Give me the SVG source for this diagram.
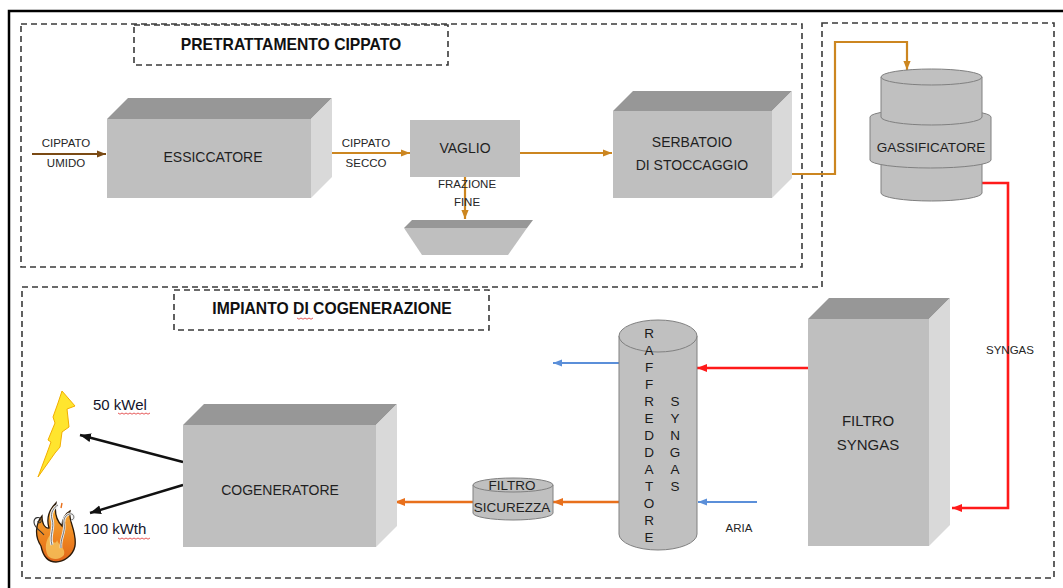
<svg xmlns="http://www.w3.org/2000/svg" width="1063" height="588" viewBox="0 0 1063 588">
  <style>
    .frame { fill: none; stroke: #3a3a3a; stroke-width: 1.6; stroke-dasharray: 6 4; }
    .title { font-family: "Liberation Sans", Arial, sans-serif; font-size: 15.7px; font-weight: bold; fill: #111; text-anchor: middle; }
    .lbl { font-family: "Liberation Sans", Arial, sans-serif; font-size: 14px; fill: #1f1f1f; text-anchor: middle; }
    .small { font-family: "Liberation Sans", Arial, sans-serif; font-size: 11.5px; fill: #262626; text-anchor: middle; }
    .vert { font-family: "Liberation Sans", Arial, sans-serif; font-size: 13.5px; fill: #1a1a1a; text-anchor: middle; }
    .power { font-family: "Liberation Sans", Arial, sans-serif; font-size: 15px; fill: #14142a; }
    .front { fill: #bfbfbf; }
    .top { fill: #979797; }
    .side { fill: #d9d9d9; }
    .cyl { fill: #c0c0c0; stroke: #808080; stroke-width: 1; }
    .squig { fill: none; stroke: #e03030; stroke-width: 0.8; }
    .ln { fill: none; }
  </style>
  <defs>
    <marker id="ah-brown" viewBox="0 0 10 10" refX="10" refY="5" markerWidth="9" markerHeight="9" markerUnits="userSpaceOnUse" orient="auto"><path d="M0,1 L10,5 L0,9 z" fill="#7a4a14"/></marker>
    <marker id="ah-gold" viewBox="0 0 10 10" refX="10" refY="5" markerWidth="9" markerHeight="9" markerUnits="userSpaceOnUse" orient="auto"><path d="M0,1 L10,5 L0,9 z" fill="#cc8620"/></marker>
    <marker id="ah-orange" viewBox="0 0 10 10" refX="10" refY="5" markerWidth="10" markerHeight="10" markerUnits="userSpaceOnUse" orient="auto"><path d="M0,1 L10,5 L0,9 z" fill="#e8701c"/></marker>
    <marker id="ah-red" viewBox="0 0 10 10" refX="10" refY="5" markerWidth="10" markerHeight="10" markerUnits="userSpaceOnUse" orient="auto"><path d="M0,1 L10,5 L0,9 z" fill="#ff1a1a"/></marker>
    <marker id="ah-blue" viewBox="0 0 10 10" refX="10" refY="5" markerWidth="9" markerHeight="9" markerUnits="userSpaceOnUse" orient="auto"><path d="M0,1 L10,5 L0,9 z" fill="#5b8fd9"/></marker>
    <marker id="ah-black" viewBox="0 0 10 10" refX="10" refY="5" markerWidth="11" markerHeight="11" markerUnits="userSpaceOnUse" orient="auto"><path d="M0,1 L10,5 L0,9 z" fill="#111"/></marker>
    <linearGradient id="flameGrad" x1="0" y1="0" x2="0" y2="1">
      <stop offset="0" stop-color="#f7b23a"/>
      <stop offset="0.6" stop-color="#ee8420"/>
      <stop offset="1" stop-color="#e0661a"/>
    </linearGradient>
  </defs>

  <!-- page edge -->
  <path d="M9,588 L9,11 L1063,11" fill="none" stroke="#000" stroke-width="2.5"/>

  <!-- section frames -->
  <g id="frames">
    <rect class="frame" x="21" y="24" width="781" height="243"/>
    <path class="frame" d="M822,23 L1054,23 L1054,578 L22,578 L22,287 L822,287 Z"/>
    <rect class="frame" x="134" y="25" width="314" height="40"/>
    <rect class="frame" x="174" y="290" width="315" height="40"/>
  </g>

  <!-- section titles -->
  <g id="title-pretrattamento">
    <text class="title" x="291" y="50">PRETRATTAMENTO CIPPATO</text>
  </g>
  <g id="title-cogenerazione">
    <text class="title" x="332" y="314">IMPIANTO DI COGENERAZIONE</text>
    <path class="squig" d="M297,318 l2,1.2 l2,-1.2 l2,1.2 l2,-1.2 l2,1.2 l2,-1.2 l2,1.2 l2,-1.2"/>
  </g>

  <!-- connectors -->
  <g id="connectors" stroke-width="2.2">
    <line x1="32" y1="154" x2="106" y2="154" stroke="#7a4a14" marker-end="url(#ah-brown)"/>
    <line x1="332" y1="153" x2="410" y2="153" stroke="#cc8620" marker-end="url(#ah-gold)"/>
    <line x1="520" y1="153" x2="612" y2="153" stroke="#cc8620" marker-end="url(#ah-gold)"/>
    <line x1="465" y1="177" x2="465" y2="219" stroke="#cc8620" marker-end="url(#ah-gold)"/>
    <path class="ln" d="M780,174 L835,174 L835,42 L907,42 L907,70" stroke="#cc8620" marker-end="url(#ah-gold)"/>
    <path class="ln" d="M982,183 L1008,183 L1008,508 L952,508" stroke="#ff1a1a" stroke-width="2.6" marker-end="url(#ah-red)"/>
    <line x1="808" y1="368" x2="697" y2="368" stroke="#ff1a1a" stroke-width="2.6" marker-end="url(#ah-red)"/>
    <line x1="619" y1="363" x2="553" y2="363" stroke="#5b8fd9" marker-end="url(#ah-blue)"/>
    <line x1="757" y1="502" x2="698" y2="502" stroke="#5b8fd9" marker-end="url(#ah-blue)"/>
    <line x1="619" y1="502" x2="553" y2="502" stroke="#e8701c" stroke-width="2.4" marker-end="url(#ah-orange)"/>
    <line x1="473" y1="502" x2="395" y2="502" stroke="#e8701c" stroke-width="2.4" marker-end="url(#ah-orange)"/>
    <line x1="183" y1="462" x2="80" y2="435" stroke="#111" stroke-width="2.4" marker-end="url(#ah-black)"/>
    <line x1="183" y1="485" x2="90" y2="513" stroke="#111" stroke-width="2.4" marker-end="url(#ah-black)"/>
  </g>

  <!-- stream labels -->
  <g id="stream-labels">
    <text class="small" x="66" y="147">CIPPATO</text>
    <text class="small" x="66" y="167">UMIDO</text>
    <text class="small" x="366" y="147">CIPPATO</text>
    <text class="small" x="366" y="167">SECCO</text>
    <text class="small" x="467" y="188">FRAZIONE</text>
    <text class="small" x="467" y="206">FINE</text>
    <text class="small" x="1010" y="354">SYNGAS</text>
    <text class="small" x="739" y="532">ARIA</text>
  </g>

  <!-- dryer -->
  <g id="essiccatore">
    <rect class="front" x="107" y="119" width="204" height="79"/>
    <polygon class="top" points="107,119 128,98 332,98 311,119"/>
    <polygon class="side" points="311,119 332,98 332,177 311,198"/>
    <text class="lbl" x="213" y="162">ESSICCATORE</text>
  </g>

  <!-- screen -->
  <g id="vaglio">
    <rect class="front" x="410" y="120" width="110" height="57"/>
    <text class="lbl" x="465" y="153">VAGLIO</text>
  </g>

  <!-- fines hopper -->
  <g id="contenitore-fine">
    <polygon class="top" points="412,220 533,220 527,228 404,228"/>
    <polygon class="front" points="404,228 527,228 508,255 422,255"/>
  </g>

  <!-- storage silo -->
  <g id="serbatoio">
    <rect class="front" x="613" y="111" width="159" height="87"/>
    <polygon class="top" points="613,111 633,91 792,91 772,111"/>
    <polygon class="side" points="772,111 792,91 792,178 772,198"/>
    <text class="lbl" x="692" y="147">SERBATOIO</text>
    <text class="lbl" x="692" y="170">DI STOCCAGGIO</text>
  </g>

  <!-- gasifier -->
  <g id="gassificatore">
    <path class="cyl" d="M881,150 L881,193 A50.5,8 0 0 0 982,193 L982,150 Z"/>
    <path class="cyl" d="M870,117 L870,160 A60.5,8 0 0 0 991,160 L991,117 A60.5,8 0 0 0 870,117 Z"/>
    <path class="cyl" d="M881,77 L881,117 A50.5,8 0 0 0 982,117 L982,77 Z"/>
    <ellipse class="cyl" cx="931.5" cy="77" rx="50.5" ry="8"/>
    <text class="lbl" x="931" y="152" style="font-size:13.5px">GASSIFICATORE</text>
  </g>

  <!-- syngas filter -->
  <g id="filtro-syngas">
    <rect class="front" x="808" y="319" width="121" height="227"/>
    <polygon class="top" points="808,319 829,298 950,298 929,319"/>
    <polygon class="side" points="929,319 950,298 950,525 929,546"/>
    <text class="lbl" x="868" y="426" style="font-size:15px">FILTRO</text>
    <text class="lbl" x="868" y="450" style="font-size:15px">SYNGAS</text>
  </g>

  <!-- syngas cooler -->
  <g id="raffreddatore">
    <path class="cyl" d="M619,336 L619,534 A39,16 0 0 0 697,534 L697,336 Z"/>
    <ellipse class="cyl" cx="658" cy="336" rx="39" ry="16"/>
    <g class="vert">
      <text x="649" y="338">R</text>
      <text x="649" y="355">A</text>
      <text x="649" y="372">F</text>
      <text x="649" y="389">F</text>
      <text x="649" y="406">R</text>
      <text x="649" y="423">E</text>
      <text x="649" y="440">D</text>
      <text x="649" y="457">D</text>
      <text x="649" y="474">A</text>
      <text x="649" y="491">T</text>
      <text x="649" y="508">O</text>
      <text x="649" y="525">R</text>
      <text x="649" y="542">E</text>
      <text x="675" y="406">S</text>
      <text x="675" y="423">Y</text>
      <text x="675" y="440">N</text>
      <text x="675" y="457">G</text>
      <text x="675" y="474">A</text>
      <text x="675" y="491">S</text>
    </g>
  </g>

  <!-- safety filter -->
  <g id="filtro-sicurezza">
    <path class="cyl" d="M473,485 L473,513 A40,7 0 0 0 553,513 L553,485 Z"/>
    <ellipse class="cyl" cx="513" cy="485" rx="40" ry="7"/>
    <text class="lbl" x="512" y="490" style="font-size:13.5px">FILTRO</text>
    <text class="lbl" x="512" y="512" style="font-size:13.5px">SICUREZZA</text>
  </g>

  <!-- CHP unit -->
  <g id="cogeneratore">
    <rect class="front" x="183" y="425" width="193" height="122"/>
    <polygon class="top" points="183,425 204,404 397,404 376,425"/>
    <polygon class="side" points="376,425 397,404 397,526 376,547"/>
    <text class="lbl" x="280" y="495">COGENERATORE</text>
  </g>

  <!-- electric output -->
  <g id="uscita-elettrica">
    <polygon points="62,391 75,406 67,409 69,427 62,432 60,447 55,453 38,477 47,453 51,442 48,440 55,423 53,417 58,403" fill="#ffe52e" stroke="#f2ae00" stroke-width="1"/>
    <text class="power" x="93" y="410">50 kWel</text>
    <path class="squig" d="M118,413 l2,1.2 l2,-1.2 l2,1.2 l2,-1.2 l2,1.2 l2,-1.2 l2,1.2 l2,-1.2 l2,1.2 l2,-1.2 l2,1.2 l2,-1.2 l2,1.2 l2,-1.2 l2,1.2 l2,-1.2"/>
  </g>

  <!-- thermal output -->
  <g id="uscita-termica">
    <path d="M41,546 C34,536 36,523 42,516 C42,525 46,529 49,528 C46,518 50,509 56,503 C54,514 58,522 62,526 C62,519 66,513 70,511 C68,521 77,531 75,546 C73,556 63,562 56,562 C47,562 43,556 41,546 Z" fill="url(#flameGrad)" stroke="#2a1a0a" stroke-width="1.3"/>
    <path d="M48,556 C44,548 46,540 50,535 C52,543 56,545 57,540 C59,546 66,548 64,555 C60,560 52,560 48,556 Z" fill="#f6c15a" opacity="0.85"/>
    <path d="M52,545 C49,535 55,528 52,519 C50,513 54,507 58,505" fill="none" stroke="#eee" stroke-width="3"/>
    <path d="M52,545 C49,535 55,528 52,519 C50,513 54,507 58,505" fill="none" stroke="#555" stroke-width="0.8"/>
    <path d="M61,548 C60,538 66,532 64,523 C63,517 68,513 72,514 C75,516 74,520 71,520" fill="none" stroke="#eee" stroke-width="2.6"/>
    <path d="M61,548 C60,538 66,532 64,523 C63,517 68,513 72,514 C75,516 74,520 71,520" fill="none" stroke="#555" stroke-width="0.8"/>
    <path d="M44,535 C40,530 34,528 34,522 C34,517 40,516 41,520 C42,523 38,524 38,521" fill="none" stroke="#333" stroke-width="1.1"/>
    <path d="M61,508 l1,-5" stroke="#e8701c" stroke-width="1.4"/>
    <text class="power" x="83" y="534">100 kWth</text>
    <path class="squig" d="M118,538 l2,1.2 l2,-1.2 l2,1.2 l2,-1.2 l2,1.2 l2,-1.2 l2,1.2 l2,-1.2 l2,1.2 l2,-1.2 l2,1.2 l2,-1.2 l2,1.2 l2,-1.2 l2,1.2 l2,-1.2"/>
  </g>
</svg>
